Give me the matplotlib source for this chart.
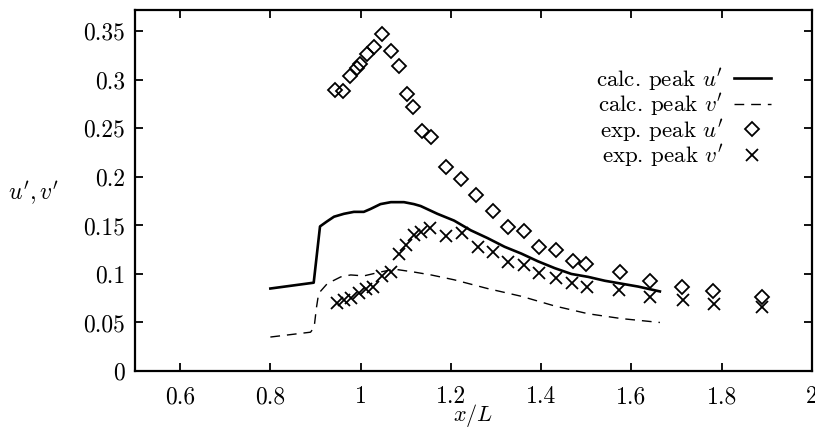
import numpy as np
import matplotlib
matplotlib.use("Agg")
from matplotlib import pyplot as plt

plt.rcParams["font.family"] = "serif"
plt.rcParams["font.serif"] = ["cmr10", "DejaVu Serif"]
plt.rcParams["mathtext.fontset"] = "cm"
plt.rcParams["axes.formatter.use_mathtext"] = True

# calculated peak u' (solid line)
calc_u_x = [0.800, 0.896, 0.903, 0.910, 0.925, 0.941, 0.963, 0.985, 1.007, 1.022, 1.044, 1.067,
            1.096, 1.118, 1.133, 1.170, 1.207, 1.244, 1.281, 1.319, 1.356, 1.393, 1.430,
            1.467, 1.504, 1.541, 1.578, 1.615, 1.663]
calc_u_y = [0.085, 0.091, 0.120, 0.149, 0.154, 0.159, 0.162, 0.164, 0.164, 0.167, 0.172, 0.174,
            0.174, 0.172, 0.170, 0.162, 0.155, 0.145, 0.137, 0.128, 0.121, 0.113, 0.106,
            0.100, 0.097, 0.093, 0.090, 0.087, 0.082]

# calculated peak v' (dashed line)
calc_v_x = [0.800, 0.889, 0.897, 0.902, 0.907, 0.926, 0.956, 0.978, 1.007, 1.044, 1.074,
            1.118, 1.156, 1.207, 1.281, 1.356, 1.430, 1.504, 1.578, 1.663]
calc_v_y = [0.035, 0.040, 0.045, 0.065, 0.080, 0.090, 0.097, 0.099, 0.098, 0.102, 0.105,
            0.102, 0.099, 0.094, 0.085, 0.077, 0.067, 0.059, 0.054, 0.050]

# experimental peak u' (diamonds)
exp_u_x = [0.944, 0.961, 0.976, 0.991, 0.999, 1.013, 1.030, 1.048, 1.067, 1.085, 1.102, 1.117,
           1.135, 1.156, 1.189, 1.222, 1.256, 1.293, 1.327, 1.363, 1.396, 1.433, 1.470,
           1.500, 1.574, 1.641, 1.711, 1.781, 1.889]
exp_u_y = [0.290, 0.289, 0.304, 0.312, 0.316, 0.327, 0.334, 0.347, 0.330, 0.314, 0.285, 0.272,
           0.247, 0.241, 0.210, 0.198, 0.181, 0.165, 0.148, 0.144, 0.128, 0.125, 0.113,
           0.110, 0.102, 0.093, 0.087, 0.082, 0.076]

# experimental peak v' (crosses)
exp_v_x = [0.947, 0.963, 0.979, 0.996, 1.011, 1.028, 1.048, 1.067, 1.085, 1.100, 1.118, 1.133,
           1.154, 1.189, 1.224, 1.259, 1.293, 1.327, 1.363, 1.396, 1.432, 1.468, 1.502,
           1.572, 1.641, 1.715, 1.784, 1.889]
exp_v_y = [0.070, 0.073, 0.075, 0.080, 0.084, 0.087, 0.098, 0.102, 0.121, 0.130, 0.140, 0.143,
           0.147, 0.139, 0.142, 0.128, 0.123, 0.112, 0.109, 0.101, 0.096, 0.091, 0.087,
           0.083, 0.076, 0.073, 0.069, 0.066]

x_ticks = [0.6, 0.8, 1, 1.2, 1.4, 1.6, 1.8, 2]
y_ticks = [0, 0.05, 0.1, 0.15, 0.2, 0.25, 0.3, 0.35]

fig = plt.figure(figsize=(8.15, 4.3), dpi=100)
ax = fig.add_axes([0.1656, 0.1372, 0.8307, 0.8395])

ax.plot(calc_u_x, calc_u_y, color="black", lw=1.9, label="calc. peak $u'$")
ax.plot(calc_v_x, calc_v_y, color="black", lw=1.0, ls=(0, (7, 5)), label="calc. peak $v'$")
ax.plot(exp_u_x, exp_u_y, ls="none", marker="D", ms=7.2, mfc="none", mec="black", mew=1.3,
        label="exp. peak $u'$")
ax.plot(exp_v_x, exp_v_y, ls="none", marker="x", ms=9, mec="black", mew=1.3,
        label="exp. peak $v'$")

ax.set_xlim(0.5, 2.0)
ax.set_ylim(0, 0.372)
ax.set_xticks(x_ticks)
ax.set_xticklabels([str(t) for t in x_ticks])
ax.set_yticks(y_ticks)
ax.set_yticklabels([str(t) for t in y_ticks])
ax.tick_params(direction="in", length=6, width=1.3, top=True, right=True, labelsize=17)
ax.tick_params(axis="x", pad=11)
ax.tick_params(axis="y", pad=7)
for s in ax.spines.values():
    s.set_linewidth(1.6)

ax.set_xlabel("$x/L$", fontsize=16, va="bottom")
ax.xaxis.set_label_coords(0.5, -0.16)
ax.set_ylabel("$u', v'$", fontsize=17, rotation=0, va="center")
ax.yaxis.set_label_coords(-0.149, 0.493)

leg = ax.legend(loc="upper right", bbox_to_anchor=(0.939, 0.845), frameon=False, markerfirst=False,
                fontsize=16.5, handlelength=1.6, handletextpad=0.47, labelspacing=-0.05,
                borderaxespad=0, borderpad=0)

fig.savefig("out.png", dpi=100)
